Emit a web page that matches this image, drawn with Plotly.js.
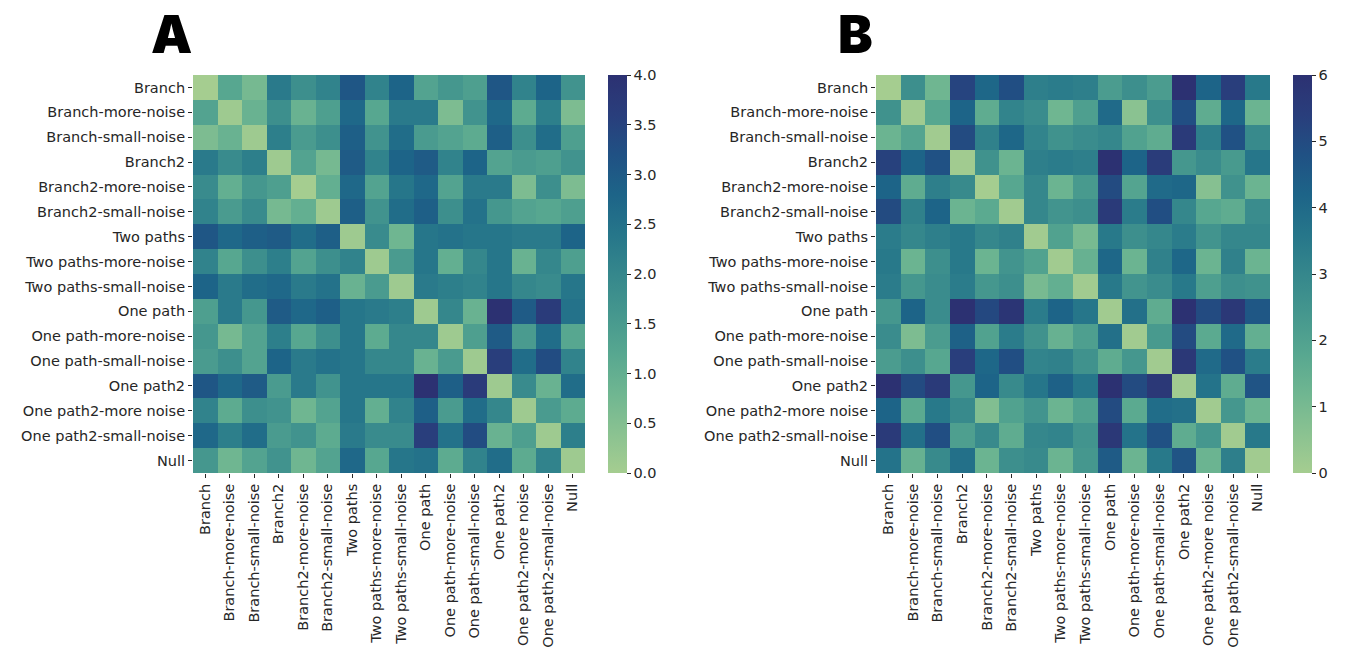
<!DOCTYPE html>
<html>
<head>
<meta charset="utf-8">
<script src="https://cdn.plot.ly/plotly-3.0.1.min.js"></script>
<style>html,body{margin:0;padding:0;background:#fff;}</style>
</head>
<body>
<div id="chart" style="width:1347px;height:651px;"></div>
<script>
const categories = ["Branch","Branch-more-noise","Branch-small-noise","Branch2","Branch2-more-noise","Branch2-small-noise","Two paths","Two paths-more-noise","Two paths-small-noise","One path","One path-more-noise","One path-small-noise","One path2","One path2-more noise","One path2-small-noise","Null"];

const valuesA = [
 [0.0,1.2,0.7,2.3,1.8,2.1,3.1,2.1,2.8,1.3,1.6,1.4,3.1,2.1,2.8,1.7],
 [1.3,0.1,0.9,1.8,0.9,1.4,2.7,1.2,2.3,2.3,0.6,1.7,2.7,1.1,2.2,0.6],
 [0.6,0.9,0.1,2.2,1.5,1.8,2.9,1.7,2.6,1.5,1.3,1.1,2.9,1.8,2.6,1.4],
 [2.3,1.9,2.2,0.1,1.3,0.7,3.0,2.1,2.8,3.0,2.1,2.8,1.3,1.5,1.4,1.7],
 [1.9,1.0,1.6,1.4,0.0,1.0,2.7,1.3,2.4,2.7,1.3,2.3,2.3,0.6,1.8,0.6],
 [2.1,1.5,1.9,0.7,1.0,0.1,2.9,1.7,2.6,2.9,1.8,2.5,1.6,1.3,1.2,1.4],
 [3.1,2.7,2.9,3.0,2.6,2.9,0.1,1.9,0.8,2.4,2.5,2.4,2.4,2.3,2.3,2.8],
 [2.1,1.2,1.8,2.2,1.3,1.8,2.1,0.1,1.5,2.4,1.0,2.0,2.4,0.9,2.0,1.4],
 [2.8,2.3,2.6,2.7,2.3,2.5,0.9,1.5,0.1,2.3,2.2,2.1,2.4,2.0,1.9,2.4],
 [1.4,2.3,1.6,3.0,2.7,2.9,2.4,2.3,2.2,0.1,2.0,0.9,4.0,3.0,3.7,2.5],
 [1.6,0.7,1.3,2.2,1.2,1.8,2.4,1.1,2.0,2.0,0.1,1.4,3.0,1.5,2.6,1.2],
 [1.5,1.8,1.3,2.8,2.3,2.5,2.4,2.0,2.0,0.9,1.5,0.1,3.6,2.6,3.3,2.1],
 [3.1,2.7,3.0,1.5,2.3,1.7,2.4,2.4,2.4,4.0,2.9,3.7,0.1,1.9,0.9,2.6],
 [2.1,1.1,1.8,1.7,0.8,1.3,2.4,1.0,2.1,2.9,1.5,2.6,2.0,0.1,1.5,1.1],
 [2.7,2.2,2.6,1.5,1.7,1.1,2.3,1.9,1.9,3.6,2.5,3.3,0.9,1.4,0.1,2.2],
 [1.6,0.8,1.3,1.7,0.8,1.3,2.7,1.2,2.4,2.5,1.1,2.1,2.6,1.1,2.1,0.1]
];

const valuesB = [
 [0.0,2.7,1.2,5.2,4.1,4.9,3.3,3.4,3.3,2.2,2.7,2.2,6.0,4.2,5.4,3.5],
 [2.6,0.1,1.8,4.2,1.6,3.1,2.8,1.2,2.1,4.0,0.6,2.7,4.9,1.6,4.1,1.3],
 [1.3,1.9,0.1,5.0,3.2,4.1,3.1,2.6,2.8,3.0,2.0,1.6,5.6,3.3,4.8,2.9],
 [5.3,4.2,4.8,0.1,2.6,1.3,3.3,3.4,3.3,6.0,4.2,5.5,2.4,2.8,2.3,3.6],
 [4.2,1.6,3.3,2.9,0.0,1.8,3.0,1.3,2.3,5.0,1.9,4.0,4.1,0.7,2.6,1.3],
 [5.0,3.2,4.2,1.3,1.7,0.1,3.0,2.5,2.7,5.6,3.4,4.9,3.0,1.8,1.6,2.8],
 [3.4,3.0,3.3,3.5,3.0,3.2,0.1,2.0,1.0,3.5,2.7,3.0,3.4,2.5,3.0,3.0],
 [3.5,1.3,2.7,3.5,1.3,2.5,2.0,0.1,1.4,4.1,1.3,3.2,4.1,1.3,3.2,1.3],
 [3.4,2.4,2.8,3.4,2.4,2.7,1.0,1.5,0.1,3.5,2.5,2.8,3.5,2.1,2.7,2.6],
 [2.4,4.2,2.8,6.0,5.1,5.8,3.4,4.2,3.6,0.1,3.8,1.6,6.0,5.0,5.7,4.6],
 [2.8,0.9,2.2,4.3,2.0,3.4,2.6,1.4,2.1,3.8,0.1,2.3,5.0,1.7,4.0,1.5],
 [2.2,2.7,1.8,5.4,4.1,4.9,3.1,3.2,2.6,1.6,2.4,0.1,5.7,4.0,4.8,3.4],
 [6.0,5.0,5.6,2.4,4.2,2.9,3.6,4.3,3.6,6.0,5.0,5.7,0.1,3.7,1.6,4.7],
 [4.2,1.7,3.5,2.9,0.8,2.0,2.5,1.3,2.0,5.0,1.7,3.9,3.8,0.1,2.4,1.3],
 [5.6,3.8,4.9,2.1,2.9,1.6,3.0,3.1,2.5,5.7,3.7,4.8,1.6,2.4,0.1,3.5],
 [3.7,1.4,2.9,3.8,1.3,2.7,2.9,1.3,2.4,4.5,1.3,3.5,4.7,1.3,3.3,0.1]
];

const ticksA = [0,0.5,1,1.5,2,2.5,3,3.5,4];
const ticksB = [0,1,2,3,4,5,6];
const panelLabels = ["A","B"];

const crest = [
 [0.0,"#a5cd90"],[0.1,"#8ac291"],[0.2,"#6fb691"],[0.3,"#57a790"],
 [0.4,"#45978e"],[0.5,"#35878c"],[0.6,"#26768a"],[0.7,"#1d6488"],
 [0.8,"#205184"],[0.9,"#293e7c"],[1.0,"#2c3172"]
];

const font = {family:"DejaVu Sans", size:14.5, color:"#262626"};
const H = 651, W = 1347;
const yTop = 1-75/H, yBot = 1-473/H;

function cb(x, ticks, fmt){
  return {x:x, xanchor:"left", y:(yTop+yBot)/2, yanchor:"middle", ypad:0, xpad:0,
    len:yTop-yBot, lenmode:"fraction", thickness:19, outlinewidth:0,
    tickvals:ticks, ticktext:ticks.map(v=>v.toFixed(fmt)), ticks:"outside",
    ticklen:4, tickcolor:"#262626", tickfont:font};
}

const traces = [
 {type:"heatmap", x:categories, y:categories, z:valuesA, colorscale:crest,
  zmin:0, zmax:4, xaxis:"x", yaxis:"y", colorbar:cb(608/W, ticksA, 1)},
 {type:"heatmap", x:categories, y:categories, z:valuesB, colorscale:crest,
  zmin:0, zmax:6, xaxis:"x2", yaxis:"y2", colorbar:cb(1293/W, ticksB, 0)}
];

function xa(d){return {domain:d, type:"category", tickangle:-90, ticks:"outside", ticklen:4,
  tickcolor:"#262626", tickfont:font, showgrid:false, zeroline:false, showline:false, automargin:false};}
function ya(anchor){return {domain:[yBot,yTop], type:"category", autorange:"reversed", ticks:"outside",
  ticklen:4, tickcolor:"#262626", tickfont:font, showgrid:false, zeroline:false, showline:false,
  anchor:anchor, automargin:false};}

const labelFont = {family:"Inter", size:52, color:"#000", weight:900};

const layout = {
  width:W, height:H, margin:{l:0,r:0,t:0,b:0}, paper_bgcolor:"#fff", plot_bgcolor:"#fff",
  showlegend:false,
  xaxis: Object.assign(xa([193/W,585/W]), {anchor:"y"}),
  yaxis: ya("x"),
  xaxis2: Object.assign(xa([876/W,1270/W]), {anchor:"y2"}),
  yaxis2: ya("x2"),
  annotations:[
    {text:panelLabels[0], x:171/W, y:1-35/H, xref:"paper", yref:"paper", showarrow:false,
     font:labelFont, xanchor:"center", yanchor:"middle"},
    {text:panelLabels[1], x:855/W, y:1-35/H, xref:"paper", yref:"paper", showarrow:false,
     font:labelFont, xanchor:"center", yanchor:"middle"}
  ]
};

Plotly.newPlot("chart", traces, layout, {displayModeBar:false, staticPlot:true});
</script>
</body>
</html>
